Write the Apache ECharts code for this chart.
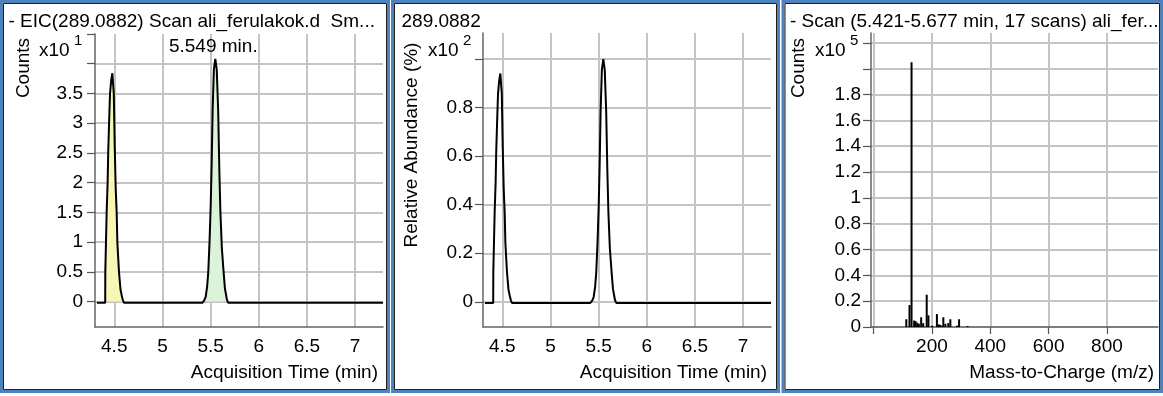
<!DOCTYPE html>
<html>
<head>
<meta charset="utf-8">
<script src="https://cdn.jsdelivr.net/npm/echarts@6/dist/echarts.min.js"></script>
<style>
  html, body { margin: 0; padding: 0; background: #fff; }
  #chart { width: 1163px; height: 396px; }
</style>
</head>
<body>
<div id="chart"></div>
<script>
// Extracted ion chromatogram, m/z 289.0882 (counts, x10^1)
const eicTime = [
  4.320, 4.406, 4.407, 4.414, 4.421, 4.431, 4.437, 4.446, 4.456, 4.468, 4.480,
  4.495, 4.505, 4.515, 4.525, 4.532, 4.549, 4.565, 4.578, 4.590, 4.602,
  5.414, 5.434, 5.449, 5.464, 5.476, 5.489, 5.501, 5.511, 5.521, 5.534, 5.549,
  5.564, 5.579, 5.591, 5.602, 5.617, 5.635, 5.649, 5.670, 5.684, 7.290
];
const eicCounts = [
  -0.02, -0.02, 0.5, 1.0, 1.5, 2.0, 2.5, 3.0, 3.5, 3.72, 3.84,
  3.5, 2.6, 1.9, 1.5, 1.0, 0.5, 0.2, 0.1, 0.02, -0.02,
  -0.02, 0.02, 0.08, 0.25, 0.5, 1.0, 1.6, 2.3, 3.2, 3.9, 4.08,
  3.9, 3.2, 2.2, 1.5, 0.9, 0.5, 0.22, 0.03, -0.02, -0.02
];
// Integrated peak windows (min) and their fills
const peakWindows = [[4.406, 4.602], [5.449, 5.670]];
const peakColors = ['#f8f6b6', '#dbf3d8'];
const labelledApex = 5.549;

// Averaged scan spectrum (5.421-5.677 min), counts x10^5
const specMz = [112, 123, 130, 139, 144, 150, 155, 163, 170, 182, 188, 201,
                217, 224, 230, 239, 246, 256, 263, 286, 293, 322];
const specCounts = [0.06, 0.17, 2.05, 0.05, 0.045, 0.033, 0.025, 0.075, 0.03, 0.25, 0.09, 0.01,
                    0.10, 0.02, 0.015, 0.075, 0.025, 0.03, 0.06, 0.01, 0.06, 0.008];

// Tick positions, labelled ticks and grid lines
const eicYTicks = [0, 0.5, 1, 1.5, 2, 2.5, 3, 3.5, 4, 4.5];
const eicYLabels = [0, 0.5, 1, 1.5, 2, 2.5, 3, 3.5];
const eicYGrid = [0, 0.5, 1, 1.5, 2, 2.5, 3, 3.5, 4];
const relYTicks = [0, 0.2, 0.4, 0.6, 0.8, 1];
const relYLabels = [0, 0.2, 0.4, 0.6, 0.8];
const specYTicks = [0, 0.2, 0.4, 0.6, 0.8, 1, 1.2, 1.4, 1.6, 1.8, 2, 2.2];
const specYLabels = [0, 0.2, 0.4, 0.6, 0.8, 1, 1.2, 1.4, 1.6, 1.8];
const timeLabels = [4.5, 5, 5.5, 6, 6.5, 7];
const mzTicks = [0, 200, 400, 600, 800];
const mzLabels = [200, 400, 600, 800];

const panelTitles = [
  '- EIC(289.0882) Scan ali_ferulakok.d  Sm...',
  '289.0882',
  '- Scan (5.421-5.677 min, 17 scans) ali_fer...'
];

const FONT = '"Liberation Sans", Arial, sans-serif';
const FS = 19;
const GRID_COLOR = '#c4c4c4';

// derived series
const maxCount = Math.max(...eicCounts);
const eicPairs = eicTime.map((t, i) => [t, eicCounts[i]]);
const relPairs = eicTime.map((t, i) => [t, eicCounts[i] / maxCount]);
const inWindow = (w) => eicPairs.filter(p => p[0] >= w[0] && p[0] <= w[1]);
const apexIdx = eicTime.indexOf(labelledApex);
const specPairs = specMz.map((m, i) => [m, specCounts[i]]);

const has = (list) => (v) => list.some(l => Math.abs(l - v) < 1e-6);
const fmt = (list) => (v) => has(list)(v) ? String(+(+v).toFixed(3)) : '';

const labelStyle = { color: '#000', fontSize: FS, fontFamily: FONT };
const axisLine = () => ({ show: true, onZero: false, lineStyle: { color: '#666', width: 1.5 } });

function yAxis(idx, min, max, split, ticks, labels, margin) {
  return {
    type: 'value', gridIndex: idx, min, max, splitNumber: split,
    axisLine: axisLine(), splitLine: { show: false },
    axisTick: { show: true, length: 8, customValues: ticks, lineStyle: { color: '#555', width: 1.2 } },
    axisLabel: Object.assign({ margin, customValues: labels, formatter: fmt(labels) }, labelStyle)
  };
}
function xAxis(idx, min, max, split, ticks, labels) {
  return {
    type: 'value', gridIndex: idx, min, max, splitNumber: split,
    axisLine: axisLine(), splitLine: { show: false },
    axisTick: ticks ? { show: true, length: 7, customValues: ticks, lineStyle: { color: '#555', width: 1.2 } }
                    : { show: false },
    axisLabel: Object.assign({ margin: 10, customValues: labels, formatter: fmt(labels) }, labelStyle)
  };
}

// light grid drawn as mark lines on each panel, underneath the traces
function gridSeries(idx, xs, ys) {
  return {
    type: 'line', xAxisIndex: idx, yAxisIndex: idx, data: [], z: 0, silent: true,
    markLine: {
      silent: true, z: 0, symbol: ['none', 'none'], animation: false, label: { show: false },
      lineStyle: { color: GRID_COLOR, width: 2, type: 'solid', opacity: 1 },
      emphasis: { disabled: true },
      data: [...xs.map(v => ({ xAxis: v })), ...ys.map(v => ({ yAxis: v }))]
    }
  };
}

function txt(x, y, text, opts) {
  return Object.assign({
    type: 'text', x, y, silent: true,
    style: Object.assign({ text, font: FS + 'px ' + FONT, fill: '#000',
                           align: 'left', verticalAlign: 'middle',
                           textAlign: 'left', textVerticalAlign: 'middle' }, (opts && opts.style) || {})
  }, opts && opts.el || {});
}
function vtxt(x, y, text) {
  return { type: 'text', x, y, rotation: Math.PI / 2, silent: true,
           style: { text, font: FS + 'px ' + FONT, fill: '#000', align: 'center', verticalAlign: 'middle',
                    textAlign: 'center', textVerticalAlign: 'middle' } };
}
function frame(x, w) {
  return [
    { type: 'rect', silent: true, shape: { x: x + 1.5, y: 1.5, width: w - 3, height: 390 },
      style: { fill: 'none', stroke: '#4f81bd', lineWidth: 3 } },
    { type: 'rect', silent: true, shape: { x: x + 3.5, y: 3.5, width: w - 7, height: 386 },
      style: { fill: 'none', stroke: '#1e1e1e', lineWidth: 1 } }
  ];
}
const sup = (x, y, t) => txt(x, y, t, { style: { font: '15px ' + FONT } });
const right = { style: { align: 'right', textAlign: 'right' } };

const chart = echarts.init(document.getElementById('chart'), null, { renderer: 'canvas' });
chart.setOption({
  animation: false,
  backgroundColor: '#fff',
  grid: [
    { left: 95, top: 34, width: 288, height: 293 },
    { left: 483, top: 33, width: 288, height: 294 },
    { left: 871, top: 33, width: 287, height: 294 }
  ],
  xAxis: [
    xAxis(0, 4.30, 7.29, 6, null, timeLabels),
    xAxis(1, 4.30, 7.29, 6, null, timeLabels),
    xAxis(2, -9, 975, 5, mzTicks, mzLabels)
  ],
  yAxis: [
    yAxis(0, -0.427, 4.5, 10, eicYTicks, eicYLabels, 12),
    yAxis(1, -0.104, 1.108, 6, relYTicks, relYLabels, 10),
    yAxis(2, 0, 2.277, 11, specYTicks, specYLabels, 10)
  ],
  series: [
    gridSeries(0, timeLabels, eicYGrid),
    gridSeries(1, timeLabels, relYTicks),
    gridSeries(2, mzTicks, specYTicks),
    ...peakWindows.map((w, k) => ({
      type: 'line', xAxisIndex: 0, yAxisIndex: 0, data: inWindow(w),
      showSymbol: false, silent: true, z: 8,
      lineStyle: { width: 0, opacity: 0 },
      areaStyle: { color: peakColors[k], opacity: 1 }
    })),
    {
      type: 'line', xAxisIndex: 0, yAxisIndex: 0, data: eicPairs, showSymbol: false, z: 10,
      lineStyle: { color: '#000', width: 2 },
      markPoint: {
        z: 10,
        symbol: 'circle', symbolSize: 1, itemStyle: { color: 'rgba(0,0,0,0)' },
        data: [{ coord: [eicTime[apexIdx], eicCounts[apexIdx]], value: eicTime[apexIdx] }],
        label: { show: true, position: 'inside', offset: [-2, -12], color: '#000',
                 fontSize: FS, fontFamily: FONT, formatter: p => p.value.toFixed(3) + ' min.' }
      }
    },
    {
      type: 'line', xAxisIndex: 1, yAxisIndex: 1, data: relPairs, showSymbol: false, z: 10,
      lineStyle: { color: '#000', width: 2 }
    },
    {
      type: 'custom', xAxisIndex: 2, yAxisIndex: 2, data: specPairs, z: 10,
      encode: { x: 0, y: 1 },
      renderItem: (params, api) => {
        const top = api.coord([api.value(0), api.value(1)]);
        const base = api.coord([api.value(0), 0]);
        return { type: 'line', shape: { x1: top[0], y1: top[1], x2: base[0], y2: base[1] },
                 style: { stroke: '#000', lineWidth: 2 } };
      }
    }
  ],
  graphic: [
    ...frame(0, 390), ...frame(391, 389), ...frame(781.5, 381.5),
    txt(8.5, 22, panelTitles[0]),
    txt(401.5, 22, panelTitles[1]),
    txt(790, 22, panelTitles[2]),
    vtxt(24, 68, 'Counts'),
    vtxt(412, 145, 'Relative Abundance (%)'),
    vtxt(799, 68, 'Counts'),
    txt(39, 51, 'x10'), sup(74, 41, '1'),
    txt(428, 51, 'x10'), sup(463, 41, '2'),
    txt(815, 51, 'x10'), sup(850, 41, '5'),
    txt(378, 373, 'Acquisition Time (min)', right),
    txt(767, 373, 'Acquisition Time (min)', right),
    txt(1154, 373, 'Mass-to-Charge (m/z)', right)
  ]
});
</script>
</body>
</html>
